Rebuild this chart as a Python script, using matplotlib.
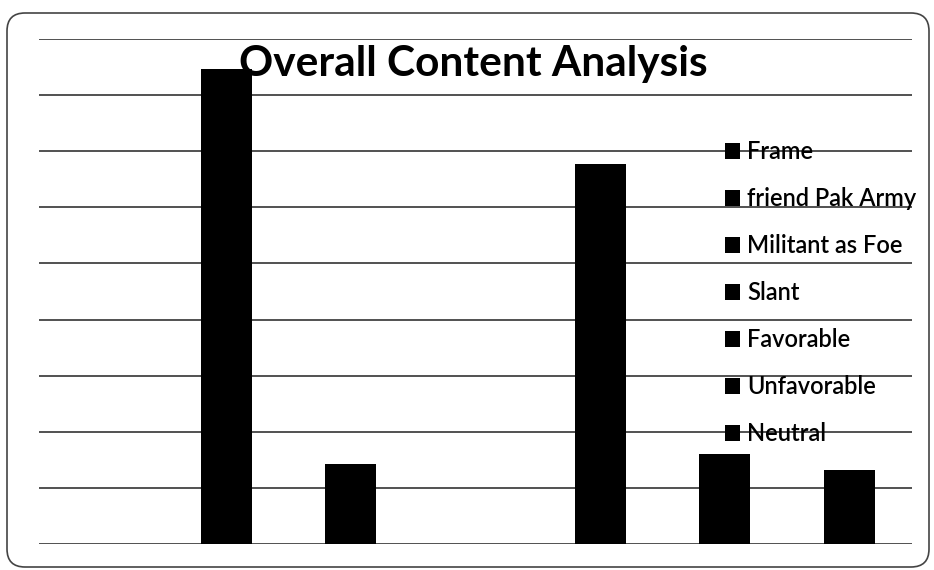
import matplotlib.pyplot as plt
from matplotlib.patches import FancyBboxPatch
from matplotlib.transforms import IdentityTransform

categories = ['Frame', 'friend Pak Army', 'Militant as Foe', 'Slant',
              'Favorable', 'Unfavorable', 'Neutral']
values = [0, 8.47, 1.43, 0, 6.77, 1.60, 1.32]
grid_levels = list(range(0, 10))

plt.rcParams['font.family'] = ['Lato', 'DejaVu Sans']

fig = plt.figure(figsize=(9.34, 5.70), dpi=100)
ax = fig.add_axes([39 / 934, 1 - 544 / 570, 873 / 934, 505 / 570])

x = list(range(len(categories)))
bars = ax.bar(x, values, width=0.41, color='black', zorder=3)

ax.set_xlim(-0.5, len(categories) - 0.5)
ax.set_ylim(0, 9)
ax.set_yticks(grid_levels)
ax.set_xticks([])
ax.tick_params(left=False, labelleft=False)
ax.yaxis.grid(True, color='#222222', linewidth=1.1, zorder=0)
for s in ax.spines.values():
    s.set_visible(False)

fig.text(0.507, 0.888, 'Overall Content Analysis', ha='center', va='center',
         fontsize=30.5, fontweight='bold', zorder=5)

leg = ax.legend(bars, categories, loc='upper left',
                bbox_to_anchor=(725 / 934, 1 - 140 / 570),
                bbox_transform=fig.transFigure, frameon=False,
                fontsize=17, handlelength=0.65, handleheight=0.65,
                handletextpad=0.3, labelspacing=1.02, borderpad=0,
                borderaxespad=0)
for t in leg.get_texts():
    t.set_fontweight('semibold')

border = FancyBboxPatch((7, 3), 922, 554, boxstyle='round,pad=0,rounding_size=18',
                        transform=IdentityTransform(), facecolor='none',
                        edgecolor='#444444', linewidth=1.2)
fig.patches.append(border)

fig.savefig('out.png', dpi=100)
